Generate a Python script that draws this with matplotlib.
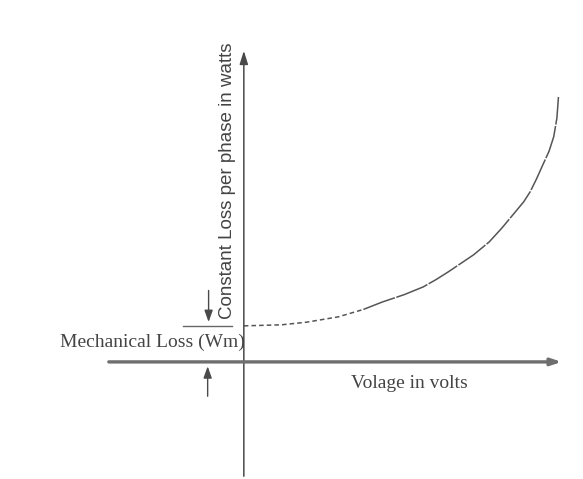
import matplotlib.pyplot as plt

# constant loss vs voltage (arbitrary units, 100 = top of curve)
voltage = [0, 6, 12, 20, 30, 38, 44, 51, 57, 61, 65, 69, 73, 78, 82, 86, 89, 91, 93, 95, 97, 98.5, 99.5, 100]
loss = [13.6, 13.8, 14.0, 15.0, 17.0, 19.8, 22.6, 25.4, 28.3, 31.0, 34.0, 37.2, 40.4, 45.3, 50.5, 56.2, 60.5, 64.2, 69.0, 74.3, 79.5, 85.0, 92.0, 100.0]
mech_loss = 13.6
dashed_upto = 5  # index where the low-voltage dashed part ends

fig = plt.figure(figsize=(5.83, 4.79), dpi=100)
ax = fig.add_axes([0, 0, 1, 1])
ax.set_xlim(-77.5, 107.8)
ax.set_ylim(-44.2, 136.6)
ax.axis('off')

ink = '#4a4a4a'

# axes drawn by hand
ax.annotate('', xy=(0, 118.5), xytext=(0, -44.2),
            arrowprops=dict(arrowstyle='-|>,head_length=0.8,head_width=0.25', color=ink, lw=1.1))
ax.annotate('', xy=(101.9, 0), xytext=(-43.8, 0),
            arrowprops=dict(arrowstyle='-|>,head_length=0.6,head_width=0.2', color='#6e6e6e', lw=2.4))

# curve
ax.plot(voltage[:dashed_upto + 1], loss[:dashed_upto + 1], color='#555555', lw=1.1,
        dashes=(3, 2))
ax.plot(voltage[dashed_upto:], loss[dashed_upto:], color='#555555', lw=1.1,
        dashes=(22, 1))

# mechanical loss marker
ax.plot([-19.4, -3.8], [mech_loss, mech_loss], color='#666666', lw=1.0)
ax.annotate('', xy=(-11.2, mech_loss + 0.4), xytext=(-11.2, 28),
            arrowprops=dict(arrowstyle='-|>,head_length=0.7,head_width=0.25', color=ink, lw=1.0))
ax.annotate('', xy=(-11.5, -0.6), xytext=(-11.5, -14),
            arrowprops=dict(arrowstyle='-|>,head_length=0.7,head_width=0.25', color=ink, lw=1.0))

serif = ['Liberation Serif', 'DejaVu Serif']
ax.text(-29, 7.2, 'Mechanical Loss (Wm)', fontsize=14, family=serif, color='#444444',
        ha='center', va='center')
ax.text(52.5, -8, 'Volage in volts', fontsize=14, family=serif, color='#444444',
        ha='center', va='center')
ax.text(-5.2, 68.5, 'Constant Loss per phase in watts', fontsize=13.5,
        family=['Liberation Sans', 'DejaVu Sans'], color='#444444',
        rotation=90, ha='center', va='center')

fig.savefig('out.png', dpi=100)
